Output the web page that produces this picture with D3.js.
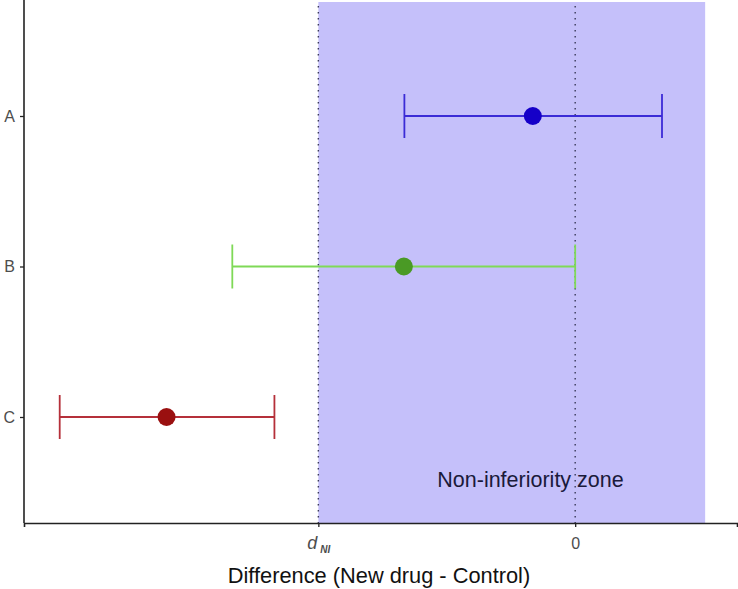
<!DOCTYPE html>
<html><head><meta charset="utf-8">
<script src="https://cdn.jsdelivr.net/npm/d3@7"></script>
<style>body{margin:0;background:#fff}svg{display:block}</style>
</head><body>
<svg id="c" width="738" height="589"></svg>
<script>
const categories = ["A", "B", "C"];
const estimates = [-0.165, -0.667, -1.591];
const lower = [-0.665, -1.335, -2.007];
const upper = [0.338, 0.0, -1.171];
const lineColors = ["#3b2bd6", "#7fd957", "#b5303a"];
const pointColors = ["#1500c8", "#4a9a25", "#9a1010"];
const zone = [-1, 0.506];
const xTickValues = [-1, 0];
const refLines = [-1, 0];

const FONT = "Liberation Sans, Arial, sans-serif";
const svg = d3.select("#c");
const plot = {left: 24, right: 737, top: 2, bottom: 523};
const x = d3.scaleLinear().domain([-2.146, 0.630]).range([plot.left, plot.right]);
const y = d3.scalePoint().domain(categories).range([116, 417]);

// zone
svg.append("rect")
  .attr("x", x(zone[0])).attr("y", plot.top)
  .attr("width", x(zone[1]) - x(zone[0])).attr("height", plot.bottom - plot.top)
  .attr("fill", "#c5c0fa");

// dotted reference lines
svg.selectAll("line.ref").data(refLines).join("line")
  .attr("class", "ref")
  .attr("x1", d => x(d)).attr("x2", d => x(d))
  .attr("y1", plot.top + 4).attr("y2", plot.bottom)
  .attr("stroke", "#3a3a5a").attr("stroke-width", 1.4)
  .attr("stroke-dasharray", "1.6,4.4");

// zone label
svg.append("text").attr("x", 530.5).attr("y", 487)
  .attr("text-anchor", "middle").attr("font-family", FONT)
  .attr("font-size", 21.5).attr("fill", "#1a1a3a").text("Non-inferiority zone");

const rows = categories.map((c, i) => ({c, est: estimates[i], lo: lower[i], hi: upper[i], lc: lineColors[i], pc: pointColors[i]}));
const capH = 22;
const g = svg.append("g");
rows.forEach(r => {
  g.append("line").attr("x1", x(r.lo)).attr("x2", x(r.hi)).attr("y1", y(r.c)).attr("y2", y(r.c))
    .attr("stroke", r.lc).attr("stroke-width", 1.8);
  [r.lo, r.hi].forEach(v => {
    g.append("line").attr("x1", x(v)).attr("x2", x(v)).attr("y1", y(r.c) - capH).attr("y2", y(r.c) + capH)
      .attr("stroke", r.lc).attr("stroke-width", 1.8);
  });
  g.append("circle").attr("cx", x(r.est)).attr("cy", y(r.c)).attr("r", 9).attr("fill", r.pc);
});

// axes
const xAxis = d3.axisBottom(x).tickValues(xTickValues).tickSize(4).tickFormat(() => "");
const xg = svg.append("g").attr("transform", `translate(0,${plot.bottom})`).call(xAxis);
xg.select(".domain").attr("stroke", "#222").attr("stroke-width", 1.6);
xg.selectAll(".tick line").attr("stroke", "#222").attr("stroke-width", 1.3);
xg.selectAll(".tick").each(function(d) {
  const t = d3.select(this).append("text").attr("y", 26).attr("fill", "#4d4d4d")
    .attr("font-family", FONT).attr("font-size", 16)
    .attr("text-anchor", "middle");
  if (d === 0) t.text("0");
  else {
    t.attr("dx", 0);
    t.append("tspan").attr("font-style", "italic").attr("font-size", 18).text("d");
    t.append("tspan").attr("font-style", "italic").attr("font-weight", "bold").attr("font-size", 10).attr("dy", 4).attr("dx", 3).text("NI");
  }
});

const yAxis = d3.axisLeft(y).tickSize(4).tickPadding(5);
const yg = svg.append("g").attr("transform", `translate(${plot.left},0)`).call(yAxis);
yg.select(".domain").attr("d", `M0,${plot.top - 2}V${plot.bottom}`).attr("stroke", "#222").attr("stroke-width", 1.6);
yg.selectAll(".tick line").attr("stroke", "#222").attr("stroke-width", 1.3);
yg.selectAll(".tick text").attr("fill", "#4d4d4d").attr("font-family", FONT).attr("font-size", 16);

svg.append("text").attr("x", 379).attr("y", 583).attr("text-anchor", "middle")
  .attr("font-family", FONT).attr("font-size", 21.8).attr("fill", "#111")
  .text("Difference (New drug - Control)");
</script>
</body></html>
